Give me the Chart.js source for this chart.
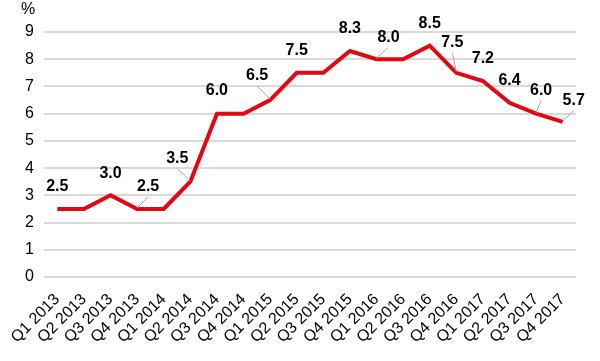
<!DOCTYPE html>
<html>
<head>
<meta charset="utf-8">
<script src="https://cdn.jsdelivr.net/npm/chart.js@4/dist/chart.umd.min.js"></script>
<style>
  html, body { margin: 0; padding: 0; background: #fff; }
  #wrap { width: 600px; height: 361px; position: relative; }
</style>
</head>
<body>
<div id="wrap"><canvas id="rateChart"></canvas></div>
<script>
// quarters and rate (%)
const quarters = ['Q1 2013','Q2 2013','Q3 2013','Q4 2013','Q1 2014','Q2 2014','Q3 2014','Q4 2014',
    'Q1 2015','Q2 2015','Q3 2015','Q4 2015','Q1 2016','Q2 2016','Q3 2016','Q4 2016',
    'Q1 2017','Q2 2017','Q3 2017','Q4 2017'];
const rates = [2.5, 2.5, 3.0, 2.5, 2.5, 3.5, 6.0, 6.0, 6.5, 7.5, 7.5, 8.3, 8.0, 8.0, 8.5, 7.5, 7.2, 6.4, 6.0, 5.7];
// which points get a value label (null = none)
const labelTexts = ['2.5', null, '3.0', '2.5', null, '3.5', '6.0', null, '6.5', '7.5', null, '8.3', '8.0', null, '8.5', '7.5', '7.2', '6.4', '6.0', '5.7'];
const yTicks = [0, 1, 2, 3, 4, 5, 6, 7, 8, 9];

// label placement relative to the point [dx, dy, leader line?]
const labelOffsets = [[0,-22,0],null,[0,-22,0],[11,-22,1],null,[-13,-23,1],[0,-23,0],null,[-13,-24,1],[0,-22,0],null,
    [0,-22,0],[12,-22,1],null,[0,-22,0],[-4,-30,1],[0,-22,0],[0,-22,0],[5,-23,1],[11,-21,1]];

const valueLabels = {
    id: 'valueLabels',
    afterDatasetsDraw(chart) {
        const ctx = chart.ctx;
        const meta = chart.getDatasetMeta(0);
        ctx.save();
        meta.data.forEach((pt, i) => {
            if (!labelTexts[i]) return;
            const [dx, dy, leader] = labelOffsets[i];
            const lx = pt.x + dx, ly = pt.y + dy;
            if (leader) {
                ctx.strokeStyle = '#a6a6a6';
                ctx.lineWidth = 1;
                ctx.beginPath();
                ctx.moveTo(lx, ly + 10);
                ctx.lineTo(pt.x, pt.y - 1);
                ctx.stroke();
            }
            ctx.fillStyle = '#000';
            ctx.font = 'bold 16px "Liberation Sans", Arial, sans-serif';
            ctx.textAlign = 'center';
            ctx.textBaseline = 'middle';
            ctx.fillText(labelTexts[i], lx, ly);
        });
        // unit over the y axis
        ctx.fillStyle = '#000';
        ctx.font = '16px "Liberation Sans", Arial, sans-serif';
        ctx.textAlign = 'center';
        ctx.textBaseline = 'middle';
        ctx.fillText('%', 28, 10);
        ctx.restore();
    }
};

new Chart(document.getElementById('rateChart'), {
    type: 'line',
    data: {
        labels: quarters,
        datasets: [{
            data: rates,
            borderColor: '#e30613',
            borderWidth: 4,
            pointRadius: 0,
            tension: 0,
            fill: false
        }]
    },
    options: {
        responsive: true,
        maintainAspectRatio: false,
        animation: false,
        layout: { padding: { top: 32, right: 24, left: 0, bottom: 0 } },
        plugins: { legend: { display: false }, tooltip: { enabled: false } },
        scales: {
            x: {
                offset: true,
                grid: { display: false },
                border: { display: false },
                ticks: {
                    color: '#000',
                    font: { family: '"Liberation Sans", Arial, sans-serif', size: 16 },
                    minRotation: 45, maxRotation: 45,
                    autoSkip: false,
                    padding: 5
                },
                afterFit: s => { s.height = 84; }
            },
            y: {
                min: 0, max: 9,
                afterBuildTicks: s => { s.ticks = yTicks.map(v => ({ value: v })); },
                grid: { color: '#d9d9d9', lineWidth: 2, drawTicks: false },
                border: { display: false },
                ticks: {
                    color: '#000',
                    font: { family: '"Liberation Sans", Arial, sans-serif', size: 16 },
                    padding: 10
                },
                afterFit: s => { s.width = 44; }
            }
        }
    },
    plugins: [valueLabels]
});
</script>
</body>
</html>
